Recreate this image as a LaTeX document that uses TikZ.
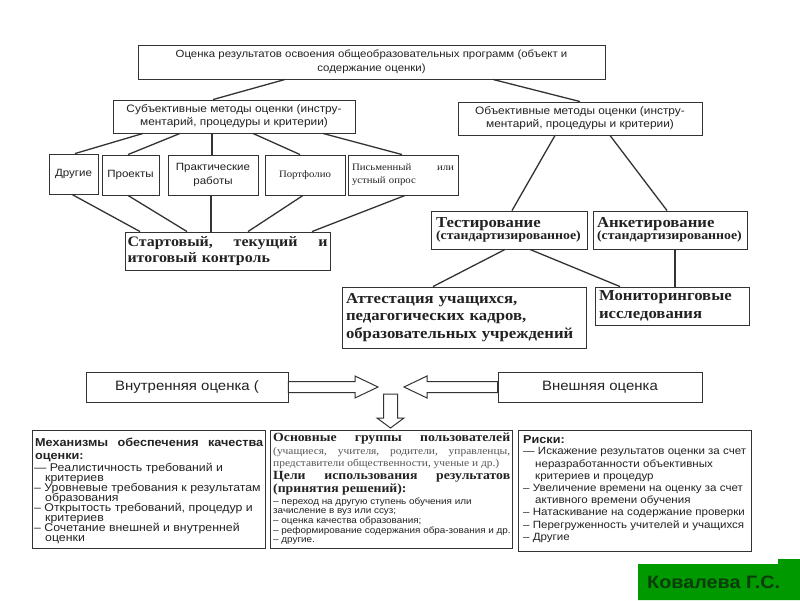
\documentclass[tikz,border=0pt]{standalone}
\usepackage{fontspec}
\setmainfont[FakeStretch=1.1]{Liberation Sans}
\newfontfamily\srf[FakeStretch=1.1]{Liberation Serif}
\definecolor{ln}{HTML}{333333}
\definecolor{tx}{HTML}{222222}
\definecolor{gtx}{HTML}{555555}
\definecolor{grn}{HTML}{009900}
\definecolor{dgrn}{HTML}{0B3D0B}
\lineskiplimit=-100pt
\begin{document}
\begin{tikzpicture}[x=1pt,y=-1pt,
 bx/.style={draw=ln, line width=0.9pt, rectangle, inner sep=0pt, text=tx},
 cn/.style={draw=ln, line width=1.3pt},
 tl/.style={anchor=north west, inner sep=0pt, text=tx, align=left},
 arr/.style={draw=ln, line width=1pt, fill=white, line join=miter}]
\useasboundingbox (0,0) rectangle (800,600);
\fill[white] (0,0) rectangle (800,600);

% top level
\node[bx, minimum width=467pt, minimum height=34pt, align=center, font=\fontsize{10.4}{14}\selectfont] (top) at (371.5,62)
 {Оценка результатов освоения общеобразовательных программ (объект и\\содержание оценки)};
\node[bx, minimum width=242pt, minimum height=33pt, align=center, font=\fontsize{10.8}{13}\selectfont] (sub) at (234,116.5)
 {Субъективные методы оценки (инстру-\\ментарий, процедуры и критерии)};
\node[bx, minimum width=244pt, minimum height=33pt, align=center, font=\fontsize{10.8}{13}\selectfont] (obj) at (580,118.5)
 {Объективные методы оценки (инстру-\\ментарий, процедуры и критерии)};

% small boxes
\node[bx, minimum width=49pt, minimum height=40pt, font=\fontsize{10.5}{13}\selectfont] (drugie) at (73.5,174) {Другие};
\node[bx, minimum width=57pt, minimum height=40pt, font=\fontsize{10.5}{13}\selectfont] (proekty) at (130.5,175) {Проекты};
\node[bx, minimum width=90pt, minimum height=40pt, align=center, font=\fontsize{10.5}{14}\selectfont] (prakt) at (213,175) {Практические\\работы};
\node[bx, minimum width=80pt, minimum height=40pt, font=\srf\fontsize{9.8}{13}\selectfont] (portf) at (305,175) {Портфолио};
\node[bx, minimum width=110pt, minimum height=40pt, align=left, text width=102pt, font=\srf\fontsize{9.8}{13}\selectfont] (pism) at (403,175)
 {\hbox to 102pt{Письменный\hfill или}\\устный опрос};

% control
\node[bx, minimum width=205pt, minimum height=38pt, align=left, text width=200pt, font=\srf\bfseries\fontsize{14.5}{16.5}\selectfont] (control) at (227.5,251)
 {\hbox to 200pt{Стартовый,\hfill текущий\hfill и}\\итоговый контроль};

% objective branch
\node[bx, minimum width=156pt, minimum height=38pt, align=left, text width=146pt, font=\srf\bfseries] (test) at (509,230)
 {{\fontsize{15.2}{15}\selectfont Тестирование}\\{\fontsize{12.6}{15}\selectfont (стандартизированное)}};
\node[bx, minimum width=154pt, minimum height=38pt, align=left, text width=146pt, font=\srf\bfseries] (anket) at (670,230)
 {{\fontsize{15.2}{15}\selectfont Анкетирование}\\{\fontsize{12.6}{15}\selectfont (стандартизированное)}};
\node[bx, minimum width=244pt, minimum height=61pt, align=left, text width=236pt, font=\srf\bfseries\fontsize{15.2}{17.5}\selectfont] (attest) at (464,317.5)
 {Аттестация учащихся,\\педагогических кадров,\\образовательных учреждений};
\node[bx, minimum width=154pt, minimum height=38pt, align=left, text width=146pt, font=\srf\bfseries\fontsize{15.2}{17.5}\selectfont] (monit) at (672,306)
 {Мониторинговые\\исследования};

% connectors
\draw[cn] ([xshift=-86.5pt]top.south) -- ([xshift=-21pt]sub.north);
\draw[cn] ([xshift=121.5pt]top.south) -- (obj.north);
\draw[cn] ([xshift=-91pt]sub.south) -- ([xshift=1.5pt]drugie.north);
\draw[cn] ([xshift=-54pt]sub.south) -- ([xshift=-2.5pt]proekty.north);
\draw[cn] ([xshift=-22pt]sub.south) -- ([xshift=-1pt]prakt.north);
\draw[cn] ([xshift=19pt]sub.south) -- ([xshift=-5pt]portf.north);
\draw[cn] ([xshift=89pt]sub.south) -- ([xshift=-1pt]pism.north);
\draw[cn] ([xshift=-1.5pt]drugie.south) -- ([xshift=-87.5pt]control.north);
\draw[cn] ([xshift=-2.5pt]proekty.south) -- ([xshift=-40.5pt]control.north);
\draw[cn] ([xshift=-2pt]prakt.south) -- ([xshift=-16.5pt]control.north);
\draw[cn] ([xshift=-2pt]portf.south) -- ([xshift=20.5pt]control.north);
\draw[cn] ([xshift=2pt]pism.south) -- ([xshift=84.5pt]control.north);
\draw[cn] ([xshift=-25pt]obj.south) -- ([xshift=3pt]test.north);
\draw[cn] ([xshift=30pt]obj.south) -- ([xshift=-3pt]anket.north);
\draw[cn] ([xshift=-4pt]test.south) -- ([xshift=-31pt]attest.north);
\draw[cn] ([xshift=21pt]test.south) -- ([xshift=-52pt]monit.north);
\draw[cn] ([xshift=5pt]anket.south) -- ([xshift=3pt]monit.north);

% internal / external
\node[bx, minimum width=202pt, minimum height=30pt, font=\fontsize{13.6}{15}\selectfont] (vnutr) at (187,387) {Внутренняя оценка (};
\node[bx, minimum width=204pt, minimum height=30pt, font=\fontsize{13.6}{15}\selectfont] (vnesh) at (600,387) {Внешняя оценка};
\draw[arr] (vnutr.east) ++(0,-5.5) -- (355,381.5) -- (355,376) -- (378,387) -- (355,398) -- (355,392.5) -- ([yshift=-5.5pt]vnutr.east) -- cycle;
\draw[arr] (vnesh.west) ++(0,-5.5) -- (427,381.5) -- (427,376) -- (404,387) -- (427,398) -- (427,392.5) -- ([yshift=-5.5pt]vnesh.west) -- cycle;
\draw[arr] (383.5,394) -- (397.5,394) -- (397.5,418) -- (404,418) -- (390.5,428) -- (377,418) -- (383.5,418) -- cycle;

% bottom boxes
\node[bx, minimum width=233pt, minimum height=118pt] (mech) at (148.5,489) {};
\node[bx, minimum width=242pt, minimum height=118pt] (users) at (391,489) {};
\node[bx, minimum width=233pt, minimum height=121pt] (risks) at (634.5,490.5) {};

\node[tl, font=\bfseries\fontsize{11.5}{13}\selectfont] (m1) at (35,438)
 {\hbox to 228pt{Механизмы\hfill обеспечения\hfill качества}\\оценки:};
\node[tl, font=\fontsize{11.2}{10}\selectfont] (m2) at (34,462.5)
 {— Реалистичность требований и\\\hspace*{11pt}критериев\\– Уровневые требования к результатам\\\hspace*{11pt}образования\\– Открытость требований, процедур и\\\hspace*{11pt}критериев\\– Сочетание внешней и внутренней\\\hspace*{11pt}оценки};

\node[tl, font=\srf\bfseries\fontsize{12.5}{14}\selectfont] (u1) at (273,433) {\hbox to 237pt{Основные\hfill группы\hfill пользователей}};
\node[tl, font=\srf\fontsize{10.4}{11.5}\selectfont, text=gtx] (u2) at (273,447.5)
 {\hbox to 237pt{(учащиеся,\hfill учителя,\hfill родители,\hfill управленцы,}\\представители общественности, ученые и др.)};
\node[tl, font=\srf\bfseries\fontsize{12.5}{13.5}\selectfont] (u4) at (273,471)
 {\hbox to 237pt{Цели\hfill использования\hfill результатов}\\(принятия решений):};
\node[tl, font=\fontsize{9}{9.6}\selectfont] (u6) at (273,497.5)
 {– переход на другую ступень обучения или\\зачисление в вуз или ссуз;\\– оценка качества образования;\\– реформирование содержания обра-зования и др.\\– другие.};

\node[tl, font=\bfseries\fontsize{11.5}{12}\selectfont] (r1) at (523,435.5) {Риски:};
\node[tl, font=\fontsize{10.5}{12.2}\selectfont] (r2) at (523,447.5)
 {— Искажение результатов оценки за счет\\\hspace*{12pt}неразработанности объективных\\\hspace*{12pt}критериев и процедур\\– Увеличение времени на оценку за счет\\\hspace*{12pt}активного времени обучения\\– Натаскивание на содержание проверки\\– Перегруженность учителей и учащихся\\– Другие};

% author badge
\fill[grn] (638,600) -- (638,564) -- (778,564) -- (778,559) -- (800,559) -- (800,600) -- cycle;
\node[anchor=west, inner sep=0pt, text=dgrn, font=\bfseries\fontsize{18}{20}\selectfont] (author) at (647,582) {Ковалева Г.С.};
\end{tikzpicture}
\end{document}
